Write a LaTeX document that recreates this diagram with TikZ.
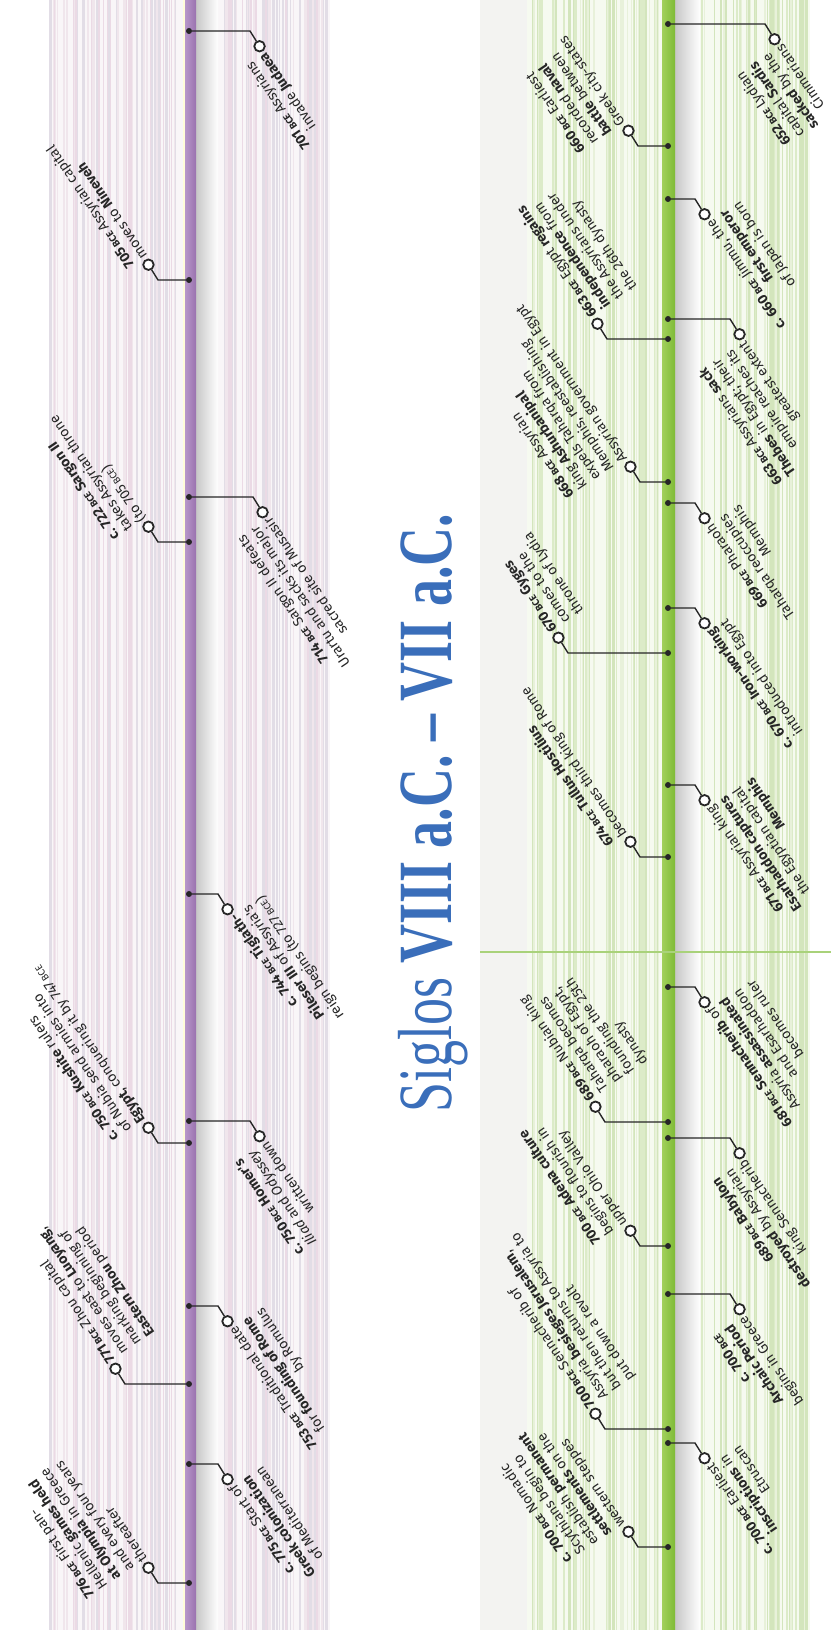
\documentclass[tikz,border=0pt]{standalone}
\usepackage{graphicx}
\usepackage{fontspec}
\setmainfont{Liberation Serif}
\newfontfamily\labelfont{Fira Sans}
\usetikzlibrary{calc}

\definecolor{ink}{HTML}{262626}
\definecolor{titleblue}{HTML}{3A6EBA}
\definecolor{purpleA}{HTML}{B797C9}
\definecolor{purpleB}{HTML}{9A72AF}
\definecolor{greenA}{HTML}{A2D05C}
\definecolor{greenB}{HTML}{7EBB36}
\definecolor{greenrule}{HTML}{A9D27A}
\definecolor{baseP}{HTML}{F9F6F8}
\definecolor{baseG}{HTML}{F6FAF0}
\definecolor{baseGray}{HTML}{F3F3F1}
\definecolor{stripeP1}{HTML}{EBDAE5}
\definecolor{stripeP2}{HTML}{E2DDE6}
\definecolor{stripeP3}{HTML}{F0E6EC}
\definecolor{stripeG1}{HTML}{DCEBC8}
\definecolor{stripeG2}{HTML}{E8F1DA}
\definecolor{stripeG3}{HTML}{D3E5BC}

% bold year with a small "BCE"
\newcommand\yr[1]{\textbf{#1\,{\fontsize{9.8}{9.8}\selectfont BCE}}}
\newcommand\bcesmall{{\fontsize{9.8}{9.8}\selectfont BCE}}

% generic event: #1 name, #2 line x, #3 y from top, #4 bend x,
% #5 angle of the slanted lead, #6 label anchor, #7 alignment, #8 label offset, #9 text
\newcommand\tlev[9]{%
  \node[dotn] (#1-d) at (#2,{1630-#3}) {};
  \coordinate (#1-b) at (#4,{1630-#3});
  \node[ring] (#1-c) at ($(#1-b)+(#5:18)$) {};
  \draw[conn] (#1-d) -- (#1-b) -- (#1-c);
  \node[lbl,anchor=#6,align=#7] (#1-t) at ($(#1-c)+#8$) {#9};
}
% right of the line, label running outward / folded back toward the line
\newcommand\evRne[5]{\tlev{#1}{#2}{#3}{#4}{-58}{north east}{right}{(-56:8)+(214:6)}{#5}}
\newcommand\evRse[5]{\tlev{#1}{#2}{#3}{#4}{-58}{south east}{right}{(-56:8)+(34:5)}{#5}}
% left of the line
\newcommand\evLsw[5]{\tlev{#1}{#2}{#3}{#4}{122}{south west}{left}{(124:8)+(34:5)}{#5}}
\newcommand\evLnw[5]{\tlev{#1}{#2}{#3}{#4}{122}{north west}{left}{(124:8)+(214:6)}{#5}}

\begin{document}
\begin{tikzpicture}[x=1pt,y=1pt,
  conn/.style={draw=ink,line width=1.4pt},
  ring/.style={circle,draw=ink,line width=1.8pt,fill=white,minimum size=10.5pt,inner sep=0pt},
  dotn/.style={circle,fill=ink,minimum size=6pt,inner sep=0pt},
  lbl/.style={font=\labelfont\fontsize{14}{16}\selectfont,text=ink,inner sep=0pt,rotate=124},
]
\useasboundingbox (0,0) rectangle (831,1630);
\fill[white] (0,0) rectangle (831,1630);

% ---- striped bands behind the 8th-century line ----
\fill[baseP] (50,0) rectangle (184,1630);
\fill[baseP] (216,0) rectangle (330,1630);
\pgfmathsetseed{4321}
\foreach \k in {1,...,65}{%
  \pgfmathsetmacro\sx{50+128*rnd}%
  \pgfmathsetmacro\sw{0.5+2*rnd}%
  \pgfmathrandominteger\stc{1}{3}%
  \draw[draw=stripeP\stc,line width=\sw pt] (\sx,0) -- (\sx,1630);
}
\foreach \k in {1,...,60}{%
  \pgfmathsetmacro\sx{222+106*rnd}%
  \pgfmathsetmacro\sw{0.5+2*rnd}%
  \pgfmathrandominteger\stc{1}{3}%
  \draw[draw=stripeP\stc,line width=\sw pt] (\sx,0) -- (\sx,1630);
}

% ---- striped bands behind the 7th-century line ----
\fill[baseGray] (480,0) rectangle (527,1630);
\fill[baseG] (527,0) rectangle (662,1630);
\fill[baseG] (698,0) rectangle (810,1630);
\foreach \k in {1,...,65}{%
  \pgfmathsetmacro\sx{527+132*rnd}%
  \pgfmathsetmacro\sw{0.5+2*rnd}%
  \pgfmathrandominteger\stc{1}{3}%
  \draw[draw=stripeG\stc,line width=\sw pt] (\sx,0) -- (\sx,1630);
}
\foreach \k in {1,...,55}{%
  \pgfmathsetmacro\sx{702+107*rnd}%
  \pgfmathsetmacro\sw{0.5+2*rnd}%
  \pgfmathrandominteger\stc{1}{3}%
  \draw[draw=stripeG\stc,line width=\sw pt] (\sx,0) -- (\sx,1630);
}

% ---- shadows and the two timelines ----
\shade[left color=black!22,right color=white] (196,0) rectangle (218,1630);
\shade[left color=black!22,right color=white] (675,0) rectangle (700,1630);
\fill[yellow!15!white] (182.5,0) rectangle (185,1630);
\shade[left color=purpleA,right color=purpleB] (185,0) rectangle (196,1630);
\shade[left color=greenA,right color=greenB] (662,0) rectangle (675,1630);
\draw[greenrule,line width=2.5pt] (480,678) -- (831,678);

% ---- title ----
\node[rotate=90,anchor=base,text=titleblue,inner sep=0pt] (title) at (451,817)
  {\scalebox{1}[1.42]{\fontsize{54}{54}\selectfont Siglos \textbf{VIII a.C. – VII a.C.}}};

% ---- 8th century BCE ----
\evRse{p701}{189}{31}{250}{\yr{701} Assyrians\\invade \textbf{Judaea}}
\evLsw{p705}{189}{280}{158}{\yr{705} Assyrian capital\\moves to \textbf{Nineveh}}
\evRse{p714}{189}{497}{253}{\yr{714} Sargon II defeats\\Urartu and sacks its major\\sacred site of Musasir}
\evLsw{p722}{189}{542}{158}{\yr{c. 722} \textbf{Sargon II}\\takes Assyrian throne\\(to 705\,\bcesmall)}
\evRne{p744}{189}{894}{218}{\yr{c. 744} \textbf{Tiglath-}\\\textbf{Pileser III} of Assyria's\\reign begins (to 727\,\bcesmall)}
\evRse{p750h}{189}{1121}{250}{\yr{c. 750} \textbf{Homer's}\\\textit{Iliad} and \textit{Odyssey}\\written down}
\evLsw{p750k}{189}{1143}{158}{\yr{c. 750} \textbf{Kushite} rulers\\of Nubia send armies into\\\textbf{Egypt}, conquering it by 747\,\bcesmall}
\evRne{p753}{189}{1306}{218}{\yr{753} Traditional date\\for \textbf{founding of Rome}\\by Romulus}
\evLnw{p771}{189}{1384}{125}{\yr{771} Zhou capital\\moves east to \textbf{Luoyang},\\marking beginning of\\\textbf{Eastern Zhou} period}
\evRne{p775}{189}{1464}{218}{\yr{c. 775} Start of\\\textbf{Greek colonization}\\of Mediterranean}
\evLsw{p776}{189}{1583}{158}{\yr{776} First pan-\\Hellenic \textbf{games held}\\\textbf{at Olympia} in Greece\\and every four years\\thereafter}

% ---- 7th century BCE ----
\evRse{g652}{668}{24}{765}{\yr{652} Lydian\\capital \textbf{Sardis}\\\textbf{sacked} by the\\Cimmerians}
\evLsw{g660}{668}{146}{638}{\yr{660} Earliest\\recorded \textbf{naval}\\\textbf{battle} between\\Greek city-states}
\evRne{g660j}{668}{199}{695}{\yr{c. 660} Jimmu, the\\\textbf{first emperor}\\of Japan is born}
\evRse{g663t}{668}{319}{730}{\yr{663} Assyrians \textbf{sack}\\\textbf{Thebes} in Egypt; their\\empire reaches its\\greatest extent}
\evLnw{g663e}{668}{339}{607}{\yr{663} Egypt \textbf{regains}\\\textbf{independence} from\\the Assyrians under\\the 26th dynasty}
\evLsw{g668}{668}{482}{640}{\yr{668} Assyrian\\king \textbf{Ashurbanipal}\\expels Taharqa from\\Memphis, reestablishing\\Assyrian government in Egypt}
\evRne{g669}{668}{503}{695}{\yr{669} Pharaoh\\Taharqa reoccupies\\Memphis}
\evRne{g670i}{668}{608}{695}{\yr{c. 670} \textbf{Iron-working}\\introduced into Egypt}
\evLnw{g670g}{668}{653}{568}{\yr{670} \textbf{Gyges}\\comes to the\\throne of Lydia}
\evRne{g671}{668}{785}{695}{\yr{671} Assyrian king\\\textbf{Esarhaddon captures}\\the Egyptian capital\\\textbf{Memphis}}
\evLsw{g674}{668}{857}{640}{\yr{674} \textbf{Tullus Hostilius}\\becomes third king of Rome}
\evRne{g681}{668}{987}{695}{\yr{681} \textbf{Sennacherib} of\\Assyria \textbf{assassinated}\\and Esarhaddon\\becomes ruler}
\evLnw{g689t}{668}{1122}{605}{\yr{689} Nubian king\\Taharqa becomes\\pharaoh of Egypt,\\founding the 25th\\dynasty}
\evRse{g689b}{668}{1138}{730}{\yr{689} \textbf{Babylon}\\\textbf{destroyed} by Assyrian\\king Sennacherib}
\evLsw{g700a}{668}{1246}{640}{\yr{700} \textbf{Adena culture}\\begins to flourish in\\upper Ohio Valley}
\evRse{g700g}{668}{1294}{730}{\yr{c. 700}\\\textbf{Archaic Period}\\begins in Greece}
\evLnw{g700j}{668}{1429}{605}{\yr{700} Sennacherib of\\Assyria \textbf{besieges Jerusalem},\\but then returns to Assyria to\\put down a revolt}
\evRne{g700e}{668}{1443}{695}{\yr{c. 700} Earliest\\\textbf{inscriptions} in\\Etruscan}
\evLsw{g700s}{668}{1547}{638}{\yr{c. 700} Nomadic\\Scythians begin to\\establish \textbf{permanent}\\\textbf{settlements} on the\\western steppes}
\end{tikzpicture}
\end{document}
